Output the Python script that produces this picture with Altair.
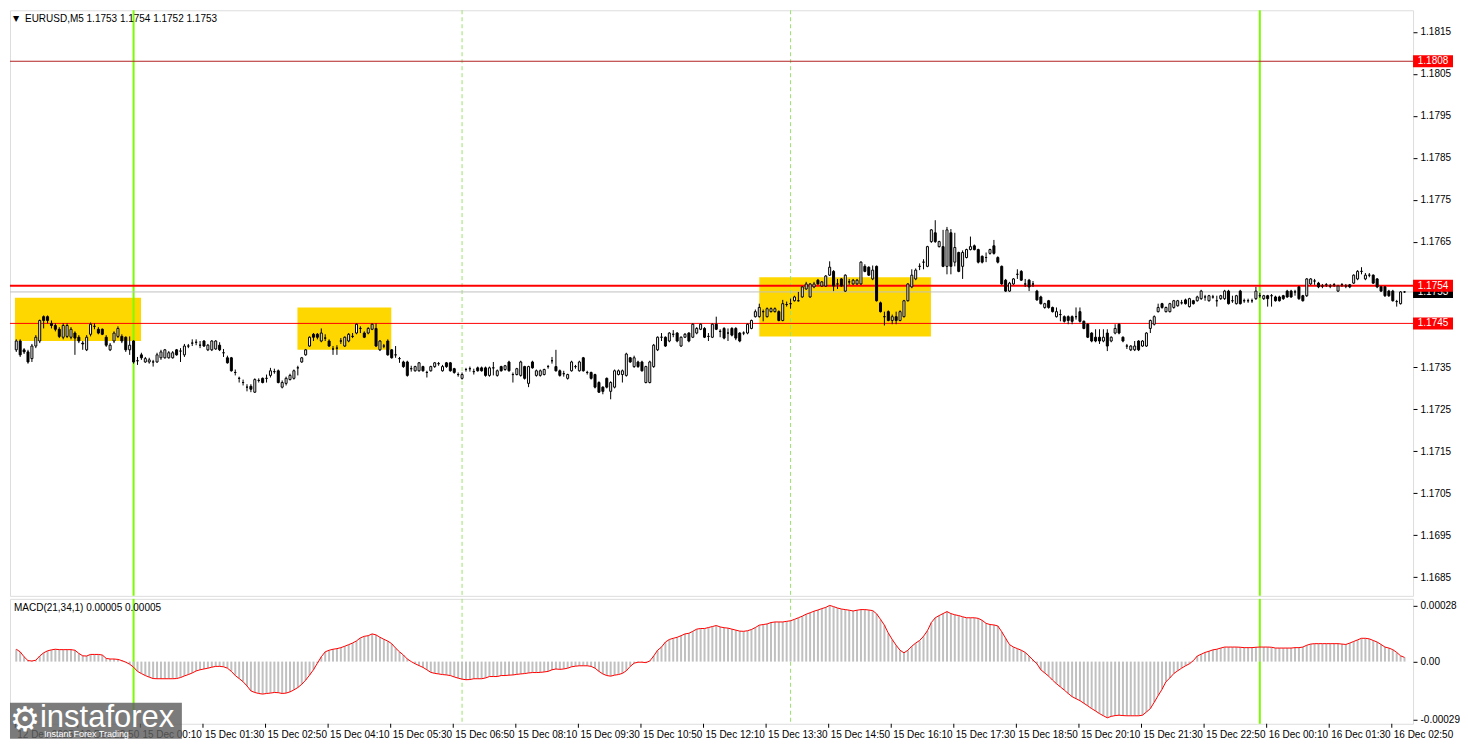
import altair as alt
import pandas as pd

# ---------------- data ----------------
symbol_header = "EURUSD,M5  1.1753 1.1754 1.1752 1.1753"
macd_header = "MACD(21,34,1) 0.00005 0.00005"

opens = [
1.17392, 1.17413, 1.17392, 1.17387, 1.17371, 1.17401, 1.17413, 1.17471, 1.17471, 1.17455,
1.17450, 1.17441, 1.17422, 1.17424, 1.17422, 1.17432, 1.17422, 1.17408, 1.17392, 1.17429,
1.17448, 1.17441, 1.17441, 1.17422, 1.17392, 1.17413, 1.17424, 1.17424, 1.17422, 1.17392,
1.17413, 1.17366, 1.17380, 1.17363, 1.17363, 1.17363, 1.17363, 1.17373, 1.17373, 1.17373,
1.17373, 1.17392, 1.17389, 1.17380, 1.17401, 1.17408, 1.17410, 1.17403, 1.17413, 1.17392,
1.17392, 1.17394, 1.17403, 1.17385, 1.17373, 1.17373, 1.17338, 1.17324, 1.17314, 1.17303,
1.17305, 1.17291, 1.17319, 1.17324, 1.17324, 1.17331, 1.17340, 1.17342, 1.17303, 1.17312,
1.17321, 1.17324, 1.17349, 1.17363, 1.17380, 1.17401, 1.17429, 1.17429, 1.17413, 1.17420,
1.17413, 1.17394, 1.17396, 1.17413, 1.17401, 1.17413, 1.17424, 1.17432, 1.17443, 1.17432,
1.17432, 1.17441, 1.17443, 1.17392, 1.17401, 1.17413, 1.17392, 1.17380, 1.17371, 1.17363,
1.17363, 1.17347, 1.17342, 1.17342, 1.17352, 1.17338, 1.17342, 1.17352, 1.17359, 1.17342,
1.17361, 1.17361, 1.17347, 1.17333, 1.17324, 1.17345, 1.17347, 1.17340, 1.17349, 1.17349,
1.17349, 1.17331, 1.17349, 1.17331, 1.17352, 1.17345, 1.17363, 1.17333, 1.17333, 1.17331,
1.17352, 1.17312, 1.17363, 1.17331, 1.17331, 1.17333, 1.17352, 1.17366, 1.17352, 1.17342,
1.17335, 1.17324, 1.17342, 1.17352, 1.17342, 1.17373, 1.17338, 1.17338, 1.17333, 1.17314,
1.17303, 1.17324, 1.17293, 1.17303, 1.17333, 1.17333, 1.17331, 1.17373, 1.17352, 1.17363,
1.17363, 1.17314, 1.17314, 1.17352, 1.17392, 1.17422, 1.17422, 1.17413, 1.17429, 1.17432,
1.17401, 1.17422, 1.17432, 1.17422, 1.17432, 1.17441, 1.17443, 1.17424, 1.17422, 1.17453,
1.17436, 1.17443, 1.17432, 1.17443, 1.17443, 1.17432, 1.17432, 1.17432, 1.17443, 1.17471,
1.17471, 1.17483, 1.17471, 1.17483, 1.17483, 1.17483, 1.17462, 1.17500, 1.17502, 1.17509,
1.17509, 1.17518, 1.17537, 1.17518, 1.17542, 1.17558, 1.17544, 1.17544, 1.17570, 1.17579,
1.17549, 1.17561, 1.17532, 1.17554, 1.17549, 1.17549, 1.17549, 1.17591, 1.17589, 1.17561,
1.17591, 1.17504, 1.17471, 1.17483, 1.17462, 1.17471, 1.17462, 1.17471, 1.17509, 1.17542,
1.17561, 1.17591, 1.17601, 1.17591, 1.17650, 1.17671, 1.17638, 1.17638, 1.17591, 1.17671,
1.17601, 1.17624, 1.17591, 1.17612, 1.17631, 1.17640, 1.17631, 1.17615, 1.17612, 1.17622,
1.17640, 1.17612, 1.17591, 1.17558, 1.17532, 1.17549, 1.17572, 1.17579, 1.17549, 1.17558,
1.17549, 1.17532, 1.17518, 1.17493, 1.17509, 1.17493, 1.17471, 1.17476, 1.17471, 1.17471,
1.17471, 1.17471, 1.17483, 1.17460, 1.17453, 1.17432, 1.17422, 1.17422, 1.17413, 1.17432,
1.17413, 1.17432, 1.17453, 1.17422, 1.17401, 1.17392, 1.17392, 1.17413, 1.17401, 1.17401,
1.17443, 1.17453, 1.17483, 1.17502, 1.17483, 1.17483, 1.17493, 1.17497, 1.17504, 1.17511,
1.17495, 1.17509, 1.17509, 1.17514, 1.17518, 1.17509, 1.17518, 1.17509, 1.17514, 1.17514,
1.17532, 1.17509, 1.17502, 1.17532, 1.17509, 1.17509, 1.17509, 1.17514, 1.17521, 1.17514,
1.17521, 1.17521, 1.17518, 1.17518, 1.17521, 1.17532, 1.17532, 1.17530, 1.17542, 1.17521,
1.17521, 1.17549, 1.17556, 1.17551, 1.17544, 1.17547, 1.17544, 1.17547, 1.17532, 1.17547,
1.17544, 1.17547, 1.17551, 1.17561, 1.17579, 1.17561, 1.17570, 1.17570, 1.17561, 1.17542,
1.17542, 1.17532, 1.17532, 1.17507, 1.17502, 1.17530,
]

highs = [
1.17417, 1.17417, 1.17396, 1.17392, 1.17406, 1.17427, 1.17464, 1.17474, 1.17474, 1.17462,
1.17455, 1.17446, 1.17455, 1.17455, 1.17446, 1.17436, 1.17427, 1.17413, 1.17427, 1.17457,
1.17455, 1.17446, 1.17443, 1.17427, 1.17408, 1.17436, 1.17448, 1.17429, 1.17424, 1.17424,
1.17415, 1.17375, 1.17385, 1.17375, 1.17373, 1.17368, 1.17385, 1.17392, 1.17394, 1.17389,
1.17389, 1.17394, 1.17396, 1.17406, 1.17406, 1.17417, 1.17417, 1.17413, 1.17415, 1.17406,
1.17415, 1.17415, 1.17410, 1.17394, 1.17378, 1.17375, 1.17345, 1.17328, 1.17321, 1.17310,
1.17310, 1.17324, 1.17324, 1.17326, 1.17333, 1.17349, 1.17347, 1.17345, 1.17319, 1.17328,
1.17335, 1.17345, 1.17354, 1.17375, 1.17394, 1.17424, 1.17432, 1.17432, 1.17443, 1.17429,
1.17417, 1.17401, 1.17403, 1.17420, 1.17424, 1.17432, 1.17432, 1.17455, 1.17448, 1.17436,
1.17446, 1.17455, 1.17455, 1.17415, 1.17406, 1.17417, 1.17394, 1.17401, 1.17375, 1.17366,
1.17366, 1.17354, 1.17354, 1.17363, 1.17354, 1.17342, 1.17354, 1.17363, 1.17363, 1.17356,
1.17363, 1.17363, 1.17349, 1.17338, 1.17338, 1.17349, 1.17352, 1.17347, 1.17352, 1.17352,
1.17352, 1.17352, 1.17363, 1.17345, 1.17354, 1.17356, 1.17366, 1.17338, 1.17349, 1.17366,
1.17354, 1.17354, 1.17366, 1.17345, 1.17345, 1.17347, 1.17356, 1.17375, 1.17392, 1.17345,
1.17342, 1.17335, 1.17366, 1.17356, 1.17366, 1.17375, 1.17342, 1.17340, 1.17335, 1.17317,
1.17305, 1.17326, 1.17317, 1.17345, 1.17345, 1.17345, 1.17385, 1.17375, 1.17378, 1.17366,
1.17366, 1.17354, 1.17366, 1.17406, 1.17424, 1.17432, 1.17424, 1.17434, 1.17439, 1.17434,
1.17424, 1.17432, 1.17434, 1.17455, 1.17446, 1.17455, 1.17446, 1.17432, 1.17455, 1.17471,
1.17441, 1.17446, 1.17443, 1.17446, 1.17446, 1.17434, 1.17436, 1.17455, 1.17464, 1.17488,
1.17502, 1.17488, 1.17493, 1.17493, 1.17493, 1.17486, 1.17511, 1.17507, 1.17514, 1.17521,
1.17530, 1.17544, 1.17554, 1.17551, 1.17554, 1.17561, 1.17556, 1.17570, 1.17603, 1.17582,
1.17561, 1.17563, 1.17572, 1.17561, 1.17561, 1.17561, 1.17603, 1.17596, 1.17591, 1.17593,
1.17593, 1.17507, 1.17483, 1.17486, 1.17476, 1.17483, 1.17486, 1.17511, 1.17551, 1.17584,
1.17586, 1.17598, 1.17608, 1.17640, 1.17680, 1.17701, 1.17652, 1.17678, 1.17685, 1.17680,
1.17671, 1.17626, 1.17629, 1.17633, 1.17662, 1.17643, 1.17633, 1.17617, 1.17624, 1.17633,
1.17654, 1.17615, 1.17593, 1.17561, 1.17554, 1.17563, 1.17584, 1.17582, 1.17561, 1.17561,
1.17556, 1.17535, 1.17521, 1.17504, 1.17511, 1.17495, 1.17493, 1.17488, 1.17474, 1.17474,
1.17474, 1.17493, 1.17493, 1.17462, 1.17455, 1.17434, 1.17441, 1.17441, 1.17441, 1.17441,
1.17424, 1.17453, 1.17455, 1.17424, 1.17406, 1.17403, 1.17413, 1.17415, 1.17415, 1.17434,
1.17464, 1.17474, 1.17502, 1.17504, 1.17495, 1.17504, 1.17511, 1.17511, 1.17511, 1.17514,
1.17516, 1.17511, 1.17521, 1.17535, 1.17523, 1.17523, 1.17523, 1.17521, 1.17523, 1.17535,
1.17535, 1.17521, 1.17523, 1.17535, 1.17514, 1.17514, 1.17514, 1.17542, 1.17528, 1.17523,
1.17523, 1.17525, 1.17521, 1.17521, 1.17523, 1.17535, 1.17535, 1.17535, 1.17544, 1.17523,
1.17563, 1.17563, 1.17561, 1.17554, 1.17549, 1.17551, 1.17549, 1.17551, 1.17547, 1.17551,
1.17549, 1.17549, 1.17572, 1.17582, 1.17589, 1.17575, 1.17575, 1.17572, 1.17563, 1.17544,
1.17544, 1.17535, 1.17535, 1.17511, 1.17532, 1.17532,
]

lows = [
1.17387, 1.17375, 1.17382, 1.17359, 1.17363, 1.17396, 1.17408, 1.17443, 1.17455, 1.17443,
1.17436, 1.17420, 1.17417, 1.17420, 1.17417, 1.17380, 1.17408, 1.17392, 1.17389, 1.17424,
1.17441, 1.17429, 1.17427, 1.17399, 1.17389, 1.17408, 1.17420, 1.17408, 1.17387, 1.17380,
1.17359, 1.17356, 1.17368, 1.17361, 1.17359, 1.17352, 1.17361, 1.17368, 1.17371, 1.17371,
1.17371, 1.17378, 1.17363, 1.17375, 1.17396, 1.17401, 1.17403, 1.17396, 1.17399, 1.17389,
1.17389, 1.17392, 1.17389, 1.17375, 1.17359, 1.17340, 1.17331, 1.17314, 1.17307, 1.17293,
1.17291, 1.17289, 1.17314, 1.17312, 1.17314, 1.17326, 1.17335, 1.17312, 1.17300, 1.17307,
1.17319, 1.17321, 1.17331, 1.17361, 1.17378, 1.17399, 1.17413, 1.17417, 1.17410, 1.17413,
1.17399, 1.17380, 1.17380, 1.17406, 1.17399, 1.17410, 1.17420, 1.17429, 1.17432, 1.17420,
1.17429, 1.17439, 1.17399, 1.17389, 1.17396, 1.17378, 1.17371, 1.17373, 1.17361, 1.17349,
1.17328, 1.17340, 1.17340, 1.17340, 1.17340, 1.17326, 1.17340, 1.17349, 1.17354, 1.17340,
1.17349, 1.17340, 1.17335, 1.17328, 1.17321, 1.17340, 1.17340, 1.17333, 1.17340, 1.17340,
1.17328, 1.17328, 1.17331, 1.17328, 1.17340, 1.17342, 1.17340, 1.17314, 1.17331, 1.17328,
1.17321, 1.17303, 1.17347, 1.17328, 1.17328, 1.17331, 1.17347, 1.17359, 1.17340, 1.17328,
1.17328, 1.17321, 1.17340, 1.17347, 1.17340, 1.17340, 1.17333, 1.17321, 1.17300, 1.17289,
1.17286, 1.17300, 1.17274, 1.17300, 1.17331, 1.17314, 1.17328, 1.17361, 1.17349, 1.17349,
1.17340, 1.17312, 1.17312, 1.17349, 1.17389, 1.17413, 1.17399, 1.17410, 1.17422, 1.17410,
1.17399, 1.17420, 1.17410, 1.17420, 1.17429, 1.17439, 1.17420, 1.17413, 1.17420, 1.17439,
1.17422, 1.17417, 1.17413, 1.17424, 1.17415, 1.17410, 1.17427, 1.17429, 1.17441, 1.17469,
1.17469, 1.17460, 1.17469, 1.17481, 1.17481, 1.17460, 1.17460, 1.17495, 1.17490, 1.17507,
1.17507, 1.17516, 1.17535, 1.17516, 1.17539, 1.17547, 1.17542, 1.17542, 1.17568, 1.17532,
1.17537, 1.17542, 1.17530, 1.17547, 1.17547, 1.17547, 1.17547, 1.17577, 1.17568, 1.17558,
1.17507, 1.17481, 1.17450, 1.17460, 1.17453, 1.17453, 1.17460, 1.17469, 1.17507, 1.17539,
1.17558, 1.17582, 1.17584, 1.17589, 1.17647, 1.17647, 1.17636, 1.17589, 1.17572, 1.17572,
1.17591, 1.17577, 1.17561, 1.17610, 1.17629, 1.17629, 1.17598, 1.17598, 1.17601, 1.17619,
1.17619, 1.17598, 1.17547, 1.17530, 1.17530, 1.17547, 1.17561, 1.17556, 1.17542, 1.17532,
1.17542, 1.17509, 1.17500, 1.17490, 1.17490, 1.17481, 1.17469, 1.17460, 1.17457, 1.17453,
1.17453, 1.17464, 1.17457, 1.17441, 1.17420, 1.17410, 1.17410, 1.17406, 1.17410, 1.17389,
1.17410, 1.17429, 1.17429, 1.17410, 1.17394, 1.17389, 1.17389, 1.17389, 1.17399, 1.17399,
1.17432, 1.17450, 1.17481, 1.17490, 1.17481, 1.17481, 1.17490, 1.17495, 1.17500, 1.17500,
1.17493, 1.17500, 1.17507, 1.17511, 1.17509, 1.17507, 1.17514, 1.17495, 1.17511, 1.17511,
1.17500, 1.17504, 1.17500, 1.17500, 1.17504, 1.17504, 1.17504, 1.17511, 1.17516, 1.17511,
1.17495, 1.17495, 1.17507, 1.17507, 1.17511, 1.17516, 1.17516, 1.17521, 1.17511, 1.17507,
1.17518, 1.17547, 1.17547, 1.17539, 1.17539, 1.17542, 1.17539, 1.17542, 1.17530, 1.17542,
1.17539, 1.17539, 1.17549, 1.17558, 1.17572, 1.17558, 1.17565, 1.17549, 1.17539, 1.17530,
1.17518, 1.17518, 1.17507, 1.17495, 1.17500, 1.17528,
]

closes = [
1.17413, 1.17380, 1.17387, 1.17363, 1.17401, 1.17422, 1.17462, 1.17462, 1.17462, 1.17450,
1.17441, 1.17424, 1.17450, 1.17450, 1.17441, 1.17420, 1.17413, 1.17406, 1.17422, 1.17453,
1.17448, 1.17432, 1.17429, 1.17403, 1.17403, 1.17432, 1.17443, 1.17413, 1.17392, 1.17403,
1.17363, 1.17366, 1.17373, 1.17371, 1.17368, 1.17363, 1.17380, 1.17387, 1.17392, 1.17385,
1.17385, 1.17380, 1.17389, 1.17401, 1.17401, 1.17408, 1.17410, 1.17403, 1.17401, 1.17403,
1.17413, 1.17413, 1.17392, 1.17385, 1.17361, 1.17342, 1.17338, 1.17324, 1.17314, 1.17303,
1.17298, 1.17321, 1.17319, 1.17314, 1.17324, 1.17342, 1.17340, 1.17314, 1.17314, 1.17324,
1.17331, 1.17342, 1.17349, 1.17373, 1.17392, 1.17422, 1.17422, 1.17422, 1.17432, 1.17420,
1.17401, 1.17394, 1.17396, 1.17413, 1.17422, 1.17429, 1.17424, 1.17453, 1.17443, 1.17422,
1.17443, 1.17453, 1.17401, 1.17413, 1.17401, 1.17380, 1.17373, 1.17380, 1.17371, 1.17352,
1.17331, 1.17347, 1.17352, 1.17361, 1.17342, 1.17338, 1.17352, 1.17361, 1.17359, 1.17352,
1.17352, 1.17342, 1.17338, 1.17333, 1.17333, 1.17345, 1.17347, 1.17340, 1.17342, 1.17342,
1.17331, 1.17349, 1.17349, 1.17342, 1.17342, 1.17354, 1.17342, 1.17333, 1.17347, 1.17363,
1.17324, 1.17352, 1.17349, 1.17342, 1.17342, 1.17345, 1.17352, 1.17366, 1.17342, 1.17331,
1.17335, 1.17333, 1.17363, 1.17352, 1.17363, 1.17342, 1.17338, 1.17324, 1.17303, 1.17291,
1.17293, 1.17303, 1.17314, 1.17342, 1.17342, 1.17342, 1.17382, 1.17363, 1.17373, 1.17352,
1.17342, 1.17352, 1.17363, 1.17403, 1.17422, 1.17422, 1.17401, 1.17432, 1.17429, 1.17413,
1.17422, 1.17429, 1.17413, 1.17453, 1.17443, 1.17453, 1.17422, 1.17424, 1.17453, 1.17441,
1.17436, 1.17420, 1.17432, 1.17427, 1.17420, 1.17413, 1.17432, 1.17453, 1.17462, 1.17483,
1.17493, 1.17483, 1.17490, 1.17490, 1.17490, 1.17462, 1.17502, 1.17500, 1.17502, 1.17518,
1.17509, 1.17542, 1.17549, 1.17549, 1.17549, 1.17549, 1.17554, 1.17568, 1.17589, 1.17544,
1.17549, 1.17544, 1.17570, 1.17554, 1.17558, 1.17558, 1.17601, 1.17579, 1.17570, 1.17582,
1.17509, 1.17483, 1.17471, 1.17462, 1.17471, 1.17462, 1.17483, 1.17509, 1.17549, 1.17570,
1.17582, 1.17591, 1.17601, 1.17638, 1.17678, 1.17650, 1.17650, 1.17591, 1.17678, 1.17591,
1.17636, 1.17579, 1.17624, 1.17631, 1.17638, 1.17631, 1.17601, 1.17601, 1.17612, 1.17631,
1.17622, 1.17601, 1.17549, 1.17532, 1.17551, 1.17561, 1.17572, 1.17558, 1.17549, 1.17542,
1.17549, 1.17511, 1.17502, 1.17502, 1.17493, 1.17483, 1.17483, 1.17476, 1.17460, 1.17462,
1.17460, 1.17471, 1.17460, 1.17443, 1.17422, 1.17413, 1.17413, 1.17413, 1.17422, 1.17401,
1.17422, 1.17443, 1.17432, 1.17413, 1.17401, 1.17401, 1.17401, 1.17392, 1.17413, 1.17432,
1.17462, 1.17471, 1.17493, 1.17493, 1.17493, 1.17502, 1.17509, 1.17509, 1.17504, 1.17502,
1.17514, 1.17502, 1.17518, 1.17532, 1.17518, 1.17521, 1.17518, 1.17509, 1.17521, 1.17532,
1.17502, 1.17509, 1.17521, 1.17502, 1.17509, 1.17509, 1.17509, 1.17532, 1.17521, 1.17521,
1.17514, 1.17521, 1.17509, 1.17509, 1.17514, 1.17518, 1.17518, 1.17530, 1.17514, 1.17509,
1.17561, 1.17561, 1.17556, 1.17542, 1.17544, 1.17547, 1.17544, 1.17547, 1.17544, 1.17547,
1.17544, 1.17542, 1.17570, 1.17579, 1.17579, 1.17570, 1.17570, 1.17551, 1.17542, 1.17532,
1.17521, 1.17521, 1.17509, 1.17507, 1.17530, 1.17530,
]

macd = [
6.2e-5, 4.9e-5, 2.4e-5, 0.5e-5, 0.3e-5, 0.7e-5, 2.8e-5, 4.4e-5, 5.4e-5, 5.9e-5,
6.2e-5, 6.0e-5, 6.0e-5, 6.0e-5, 6.0e-5, 5.7e-5, 4.1e-5, 2.9e-5, 2.8e-5, 3.6e-5,
3.6e-5, 3.6e-5, 3.3e-5, 1.6e-5, 1.3e-5, 1.3e-5, 1.1e-5, 0.5e-5, -0.3e-5, -1.3e-5,
-2.8e-5, -4.9e-5, -6.0e-5, -7.0e-5, -7.8e-5, -8.5e-5, -8.6e-5, -8.6e-5, -8.6e-5, -8.6e-5,
-8.6e-5, -8.5e-5, -8.0e-5, -7.2e-5, -6.5e-5, -5.7e-5, -4.7e-5, -4.1e-5, -3.7e-5, -3.3e-5,
-2.8e-5, -2.4e-5, -2.4e-5, -2.6e-5, -3.3e-5, -4.9e-5, -7.0e-5, -8.5e-5, -10.1e-5, -12.2e-5,
-14.7e-5, -15.5e-5, -16.0e-5, -16.3e-5, -16.0e-5, -15.8e-5, -15.5e-5, -15.6e-5, -16.0e-5, -15.8e-5,
-15.2e-5, -14.2e-5, -13.0e-5, -11.4e-5, -9.3e-5, -6.8e-5, -4.1e-5, -0.8e-5, 2.4e-5, 4.9e-5,
5.7e-5, 6.2e-5, 6.5e-5, 7.0e-5, 7.7e-5, 8.5e-5, 9.3e-5, 10.4e-5, 11.9e-5, 12.7e-5,
13.0e-5, 13.9e-5, 13.4e-5, 12.2e-5, 11.2e-5, 10.3e-5, 9.0e-5, 6.8e-5, 4.9e-5, 3.3e-5,
1.3e-5, 0.0, -1.1e-5, -2.0e-5, -2.9e-5, -4.1e-5, -5.4e-5, -5.9e-5, -6.2e-5, -6.5e-5,
-6.7e-5, -7.0e-5, -7.7e-5, -8.3e-5, -8.8e-5, -9.1e-5, -9.0e-5, -8.6e-5, -8.6e-5, -8.6e-5,
-8.2e-5, -7.5e-5, -7.5e-5, -7.5e-5, -7.0e-5, -7.0e-5, -6.8e-5, -6.7e-5, -6.4e-5, -6.2e-5,
-6.0e-5, -5.7e-5, -5.5e-5, -5.5e-5, -5.4e-5, -5.2e-5, -4.9e-5, -4.1e-5, -3.7e-5, -3.9e-5,
-3.7e-5, -3.3e-5, -2.6e-5, -2.3e-5, -2.1e-5, -2.1e-5, -2.1e-5, -2.4e-5, -3.3e-5, -4.9e-5,
-6.2e-5, -7.0e-5, -7.3e-5, -6.8e-5, -6.5e-5, -5.9e-5, -4.6e-5, -2.4e-5, -0.8e-5, -0.3e-5,
-0.3e-5, -0.5e-5, 0.3e-5, 2.8e-5, 5.7e-5, 7.3e-5, 9.8e-5, 11.1e-5, 11.7e-5, 12.2e-5,
13.0e-5, 13.9e-5, 14.2e-5, 15.2e-5, 16.3e-5, 16.6e-5, 16.6e-5, 17.1e-5, 17.6e-5, 18.1e-5,
17.4e-5, 17.0e-5, 16.8e-5, 16.3e-5, 15.8e-5, 15.3e-5, 15.2e-5, 15.5e-5, 16.1e-5, 17.1e-5,
18.3e-5, 18.6e-5, 18.9e-5, 19.6e-5, 19.9e-5, 19.9e-5, 19.9e-5, 20.2e-5, 20.5e-5, 21.2e-5,
22.0e-5, 22.8e-5, 23.8e-5, 24.5e-5, 25.3e-5, 25.9e-5, 26.6e-5, 27.2e-5, 28.2e-5, 27.6e-5,
26.9e-5, 26.4e-5, 26.1e-5, 25.8e-5, 25.4e-5, 25.8e-5, 26.1e-5, 26.1e-5, 25.9e-5, 25.6e-5,
24.0e-5, 21.2e-5, 18.3e-5, 14.3e-5, 11.1e-5, 8.2e-5, 5.7e-5, 4.4e-5, 5.7e-5, 7.7e-5,
9.3e-5, 10.6e-5, 12.7e-5, 15.5e-5, 19.6e-5, 22.0e-5, 23.1e-5, 24.1e-5, 25.1e-5, 24.1e-5,
23.5e-5, 23.1e-5, 22.5e-5, 22.0e-5, 22.0e-5, 22.0e-5, 21.7e-5, 20.7e-5, 19.2e-5, 18.6e-5,
18.4e-5, 17.9e-5, 15.0e-5, 11.7e-5, 8.5e-5, 7.3e-5, 6.5e-5, 5.7e-5, 4.6e-5, 2.8e-5,
0.8e-5, -1.1e-5, -4.1e-5, -5.7e-5, -7.3e-5, -9.3e-5, -11.1e-5, -12.7e-5, -14.3e-5, -16.0e-5,
-17.6e-5, -18.6e-5, -19.6e-5, -20.9e-5, -22.2e-5, -23.6e-5, -24.8e-5, -26.1e-5, -27.2e-5, -28.2e-5,
-27.5e-5, -27.1e-5, -26.9e-5, -27.1e-5, -27.2e-5, -27.2e-5, -27.2e-5, -27.2e-5, -26.9e-5, -25.3e-5,
-23.6e-5, -20.4e-5, -17.1e-5, -13.9e-5, -10.1e-5, -8.2e-5, -6.0e-5, -4.6e-5, -3.3e-5, -2.1e-5,
-1.1e-5, 0.5e-5, 2.8e-5, 3.7e-5, 4.6e-5, 5.2e-5, 5.9e-5, 6.2e-5, 6.8e-5, 7.3e-5,
7.3e-5, 7.3e-5, 7.3e-5, 7.2e-5, 7.0e-5, 7.0e-5, 7.0e-5, 7.2e-5, 7.3e-5, 7.3e-5,
7.3e-5, 7.2e-5, 6.8e-5, 6.8e-5, 6.8e-5, 6.8e-5, 6.8e-5, 7.0e-5, 7.0e-5, 7.3e-5,
8.2e-5, 8.8e-5, 9.0e-5, 9.0e-5, 9.0e-5, 9.0e-5, 9.0e-5, 9.0e-5, 9.0e-5, 8.8e-5,
8.6e-5, 9.3e-5, 10.1e-5, 10.9e-5, 11.7e-5, 11.7e-5, 11.4e-5, 10.6e-5, 9.8e-5, 8.6e-5,
7.3e-5, 6.8e-5, 6.0e-5, 4.6e-5, 2.9e-5, 2.1e-5,
]

tick_idx = [0, 16, 32, 48, 64, 80, 96, 112, 128, 144, 160, 176, 192, 208, 224,
            240, 256, 272, 288, 304, 320, 336, 352]
tick_labels = ["12 Dec 2025", "12 Dec 22:50", "15 Dec 00:10", "15 Dec 01:30",
               "15 Dec 02:50", "15 Dec 04:10", "15 Dec 05:30", "15 Dec 06:50",
               "15 Dec 08:10", "15 Dec 09:30", "15 Dec 10:50", "15 Dec 12:10",
               "15 Dec 13:30", "15 Dec 14:50", "15 Dec 16:10", "15 Dec 17:30",
               "15 Dec 18:50", "15 Dec 20:10", "15 Dec 21:30", "15 Dec 22:50",
               "16 Dec 00:10", "16 Dec 01:30", "16 Dec 02:50"]

price_ticks = [1.1815, 1.1805, 1.1795, 1.1785, 1.1775, 1.1765,
               1.1735, 1.1725, 1.1715, 1.1705, 1.1695, 1.1685]
macd_ticks = [0.00028, 0.0, -0.00029]

level_prices = [1.1808, 1.17545, 1.17455]
level_labels = ["1.1808", "1.1754", "1.1745"]
bid_price = [1.1753]
bid_label = ["1.1753"]

box_start = [-0.325, 71.9, 190.0]
box_end = [31.9, 95.9, 233.9]
box_top = [1.17516, 1.17493, 1.17565]
box_bottom = [1.17413, 1.17392, 1.17424]

day_lines = [30, 318]
session_lines = [114, 198]

# ---------------- layout ----------------
W, H1, H2 = 1404, 586, 125
FONT = "Liberation Sans"

n = len(opens)
candles = pd.DataFrame({"k": list(range(n)), "open": opens, "high": highs,
                        "low": lows, "close": closes})
candles["dir"] = ["up" if c >= o else "down" for o, c in zip(opens, closes)]
macd_df = pd.DataFrame({"k": list(range(len(macd))), "macd": macd})

xs = alt.Scale(domain=[-0.325, 355.9], nice=False, zero=False)
ps = alt.Scale(domain=[1.168054, 1.182016], nice=False, zero=False)
ms = alt.Scale(domain=[-0.000312, 0.000315], nice=False, zero=False)

price_axis = alt.Axis(orient="right", values=price_ticks, format=".4f", title=None,
                      domain=False, grid=False, tickSize=4, tickColor="black",
                      labelColor="black", labelFont=FONT, labelFontSize=10,
                      labelPadding=3, labelOverlap=False, labelFlush=False)
macd_axis = alt.Axis(orient="right", values=macd_ticks, title=None,
                     labelExpr="datum.value > 0.0001 ? '0.00028' : (datum.value < -0.0001 ? '-0.00029' : '0.00')",
                     domain=False, grid=False, tickSize=4, tickColor="black",
                     labelColor="black", labelFont=FONT, labelFontSize=10,
                     labelPadding=3, labelOverlap=False, labelFlush=False)


def X(f="k"):
    return alt.X(f, type="quantitative", scale=xs, axis=None)


def YP(f):
    return alt.Y(f, type="quantitative", scale=ps, axis=price_axis)


def YM(f):
    return alt.Y(f, type="quantitative", scale=ms, axis=macd_axis)


GREEN = "#7CFC00"
one = pd.DataFrame({"a": [0]})

# ---- price panel ----
boxes_df = pd.DataFrame({"k0": box_start, "k1": box_end, "p0": box_bottom, "p1": box_top})
yellow = alt.Chart(boxes_df).mark_rect(color="#FFD700").encode(
    x=X("k0"), x2="k1:Q", y=YP("p0"), y2="p1:Q")

vsolid_p = alt.Chart(pd.DataFrame({"k": day_lines})).mark_rule(
    color=GREEN, strokeWidth=2).encode(x=X())
vdash_p = alt.Chart(pd.DataFrame({"k": session_lines})).mark_rule(
    color="#9BE36B", strokeWidth=1, strokeDash=[4, 3]).encode(x=X())

lvl_df = pd.DataFrame({"p": level_prices, "t": level_labels})
bid_df = pd.DataFrame({"p": bid_price, "t": bid_label})

h_top = alt.Chart(lvl_df.iloc[[0]]).mark_rule(color="#B22222", strokeWidth=1).encode(y=YP("p"))
h_mid = alt.Chart(lvl_df.iloc[[1]]).mark_rule(color="#FF0000", strokeWidth=2).encode(y=YP("p"))
h_low = alt.Chart(lvl_df.iloc[[2]]).mark_rule(color="#FF0000", strokeWidth=1).encode(y=YP("p"))
h_bid = alt.Chart(bid_df).mark_rule(color="#C0C0C0", strokeWidth=1).encode(y=YP("p"))

wicks = alt.Chart(candles).mark_rule(color="black", strokeWidth=1).encode(
    x=X(), y=YP("low"), y2="high:Q")
bodies = alt.Chart(candles).mark_bar(width=2, stroke="black", strokeWidth=1,
                                     orient="vertical").encode(
    x=X(), y=YP("open"), y2="close:Q",
    fill=alt.Fill("dir:N", scale=alt.Scale(domain=["up", "down"], range=["white", "black"]),
                  legend=None))

tri = alt.Chart(one).mark_text(text="▼", font="DejaVu Sans", fontSize=8, color="black",
                               align="center", baseline="middle").encode(
    x=alt.value(6), y=alt.value(9))
head = alt.Chart(pd.DataFrame({"t": [symbol_header]})).mark_text(
    font=FONT, fontSize=10, color="black", align="left", baseline="middle").encode(
    x=alt.value(15), y=alt.value(9), text="t:N")

BOX_PATH = "M-1,-0.3L1,-0.3L1,0.3L-1,0.3Z"
bid_box = alt.Chart(bid_df).mark_point(shape=BOX_PATH, filled=True, size=1600,
                                       color="black", opacity=1, strokeWidth=0).encode(
    x=alt.value(W + 20), y=YP("p"))
bid_txt = alt.Chart(bid_df).mark_text(font=FONT, fontSize=10, color="white",
                                      align="center", baseline="middle").encode(
    x=alt.value(W + 20), y=YP("p"), text="t:N")
lvl_box = alt.Chart(lvl_df).mark_point(shape=BOX_PATH, filled=True, size=1600,
                                       color="#FF0000", opacity=1, strokeWidth=0).encode(
    x=alt.value(W + 20), y=YP("p"))
lvl_txt = alt.Chart(lvl_df).mark_text(font=FONT, fontSize=10, color="white",
                                      align="center", baseline="middle").encode(
    x=alt.value(W + 20), y=YP("p"), text="t:N")

price = alt.layer(yellow, vsolid_p, vdash_p, h_top, h_bid, h_mid, h_low, wicks, bodies,
                  tri, head, bid_box, bid_txt, lvl_box, lvl_txt).properties(
    width=W, height=H1)

# ---- MACD panel ----
vsolid_m = alt.Chart(pd.DataFrame({"k": day_lines})).mark_rule(
    color=GREEN, strokeWidth=2).encode(x=X())
vdash_m = alt.Chart(pd.DataFrame({"k": session_lines})).mark_rule(
    color="#9BE36B", strokeWidth=1, strokeDash=[4, 3]).encode(x=X())
hist = alt.Chart(macd_df).mark_bar(width=2, color="#C0C0C0", orient="vertical").encode(
    x=X(), y=YM("macd"), y2=alt.datum(0))
sig = alt.Chart(macd_df).mark_line(color="#FF0000", strokeWidth=1).encode(
    x=X(), y=YM("macd"))
mhead = alt.Chart(pd.DataFrame({"t": [macd_header]})).mark_text(
    font=FONT, fontSize=10, color="black", align="left", baseline="middle").encode(
    x=alt.value(4), y=alt.value(9), text="t:N")

ticks_df = pd.DataFrame({"k": tick_idx, "t": tick_labels})
tick_rules = alt.Chart(ticks_df).mark_rule(color="black", strokeWidth=1, xOffset=-1).encode(
    x=X(), y=alt.value(H2), y2=alt.value(H2 + 4))
tick_txt = alt.Chart(ticks_df).mark_text(font=FONT, fontSize=10, color="black",
                                         align="left", baseline="middle", dx=1).encode(
    x=X(), y=alt.value(H2 + 11), text="t:N")

logo_rect = alt.Chart(one).mark_rect(color="#5E5E5E", opacity=0.82).encode(
    x=alt.value(0), x2=alt.value(172), y=alt.value(104), y2=alt.value(140))
logo_gear = alt.Chart(one).mark_text(text="⚙", font="DejaVu Sans", fontSize=34,
                                     color="white", align="center", baseline="middle").encode(
    x=alt.value(15), y=alt.value(122))
logo_txt = alt.Chart(one).mark_text(text="instaforex", font=FONT, fontSize=31,
                                    color="white", align="left", baseline="alphabetic").encode(
    x=alt.value(30), y=alt.value(128))
logo_sub = alt.Chart(one).mark_text(text="Instant Forex Trading", font=FONT, fontSize=9,
                                    color="white", align="left", baseline="alphabetic").encode(
    x=alt.value(34), y=alt.value(138))

macd_chart = alt.layer(vsolid_m, vdash_m, hist, sig, mhead, tick_rules, tick_txt,
                       logo_rect, logo_gear, logo_txt, logo_sub).properties(
    width=W, height=H2)

chart = alt.vconcat(price, macd_chart, spacing=3, bounds="flush").properties(
    padding=0
).configure_view(stroke="black", strokeWidth=1).configure(background="white")

chart.save("out.html", embed_options={"renderer": "svg", "actions": False})
